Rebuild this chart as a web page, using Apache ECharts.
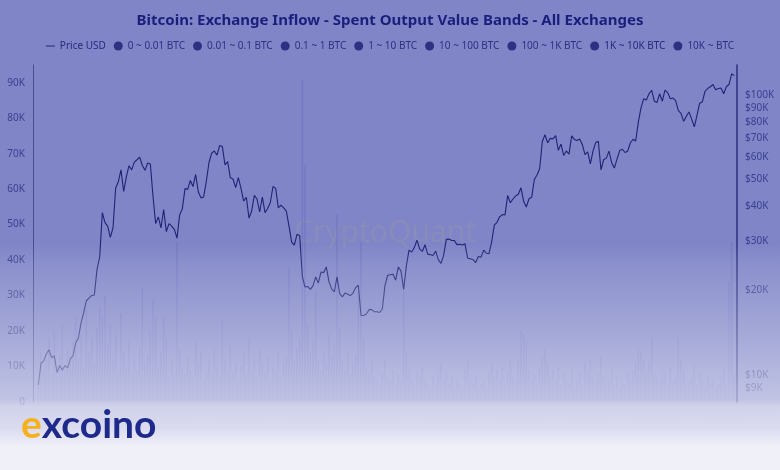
<!DOCTYPE html>
<html><head><meta charset="utf-8">
<script src="https://cdn.jsdelivr.net/npm/echarts@6/dist/echarts.min.js"></script>
<style>html,body{margin:0;padding:0;background:#f0f0f8}#c{width:780px;height:470px}</style>
</head><body><div id="c"></div>
<script>
// Weekly points starting 2020-07-20 (Mondays)
const firstWeek = '2020-07-20';

// BTC price, thousands of USD
const price2020 = [9.2,11.0,11.2,11.9,12.3,11.5,11.7,10.2,10.8,10.4,10.8,10.6,11.4,11.7,13.0,13.5,15.3,16.7,18.4,18.8,19.2,19.3,23.8,26.3];
const price2021 = [38.0,35.0,34.0,31.0,33.5,46.5,49.0,54.0,45.2,51.0,55.9,54.0,57.6,58.7,60.0,56.0,53.8,57.2,56.7,43.5,34.7,36.7,33.5,39.0,32.5,34.7,34.0,33.1,30.8,37.3,39.2,46.3,46.0,49.5,47.1,52.0,45.0,42.9,43.2,49.2,57.4,62.0,63.1,61.0,66.0,65.5,56.3,57.8,50.6,50.1,46.7,50.7];
const price2022 = [46.4,41.8,43.1,36.3,38.5,43.8,42.5,38.2,43.2,38.0,39.3,41.3,47.1,46.4,39.5,40.4,39.5,38.5,34.0,29.8,29.1,31.8,31.4,22.5,20.6,20.7,20.2,20.8,22.4,21.3,23.3,23.2,24.3,21.5,20.3,19.8,22.4,19.5,19.0,19.6,19.4,19.2,19.6,20.5,20.9,16.3,16.3,16.5,17.1,17.1,16.8,16.8];
const price2023 = [16.7,17.2,20.9,22.7,22.8,22.9,21.8,24.3,23.5,20.2,24.5,27.9,27.5,28.5,30.3,28.2,27.6,29.2,27.0,26.9,26.7,27.7,25.8,25.0,26.8,30.5,30.6,30.2,30.2,29.2,29.3,29.1,29.4,26.1,26.0,25.8,25.2,26.5,26.3,27.9,27.2,27.1,29.9,34.3,35.1,36.7,37.4,37.3,43.8,41.2,42.5,43.6];
const price2024 = [44.2,46.6,41.7,39.8,42.6,43.1,49.9,51.8,54.5,68.2,72.1,67.5,70.0,69.7,71.6,63.4,66.8,60.8,63.1,61.5,71.4,69.4,68.8,69.6,66.5,61.2,62.7,56.7,63.0,67.6,68.3,54.0,58.7,59.5,63.0,57.3,54.8,59.0,63.3,64.0,62.3,63.0,67.4,69.5,68.5,80.0,90.0,97.0,96.0,101.0,104.0,95.0,94.0];
const price2025 = [101.0,95.0,104.0,102.0,97.0,97.5,95.5,88.0,86.0,80.5,84.0,87.0,82.0,77.0,84.5,93.5,94.5,103.0,105.5,107.0,109.0,104.5,105.5,106.0,101.0,107.0,109.0,119.0,117.5];

// Exchange inflow, 1K ~ 10K BTC band, thousands of BTC
const inflow2020 = [6,14,9,12,18,8,20,10,13,22,9,15,11,17,24,12,19,10,26,14,18,11,21,27];
const inflow2021 = [24,30,16,22,12,19,9,25,14,10,17,8,12,9,15,32,11,13,20,29,24,10,14,24,18,7,12,8,45,15,10,8,13,9,7,17,11,14,6,9,12,8,15,10,7,23,12,9,16,8,11,6];
const inflow2022 = [10,14,8,18,9,12,7,15,11,8,13,6,10,9,14,7,11,13,38,20,12,15,18,91,67,22,14,17,31,12,9,14,11,19,13,16,53,21,12,9,14,8,11,13,30,45,18,10,8,12,7,6];
const inflow2023 = [5,8,12,7,6,9,5,8,6,31,14,9,6,5,8,7,10,6,5,4,7,5,9,11,6,8,5,7,4,6,5,4,9,12,6,5,7,4,5,6,4,8,11,7,9,6,10,5,8,12,7,6];
const inflow2024 = [12,20,19,17,9,6,8,5,10,13,15,11,7,9,6,10,5,8,6,5,9,4,6,8,5,11,9,12,7,6,8,13,7,5,6,9,5,7,4,6,5,8,6,9,11,15,14,12,9,11,18,8,7];
const inflow2025 = [6,9,8,5,10,6,7,18,12,9,5,6,7,11,5,8,6,4,7,5,6,4,5,7,9,5,34,45,8];

// Axis ticks
const leftTicksK = [0,10,20,30,40,50,60,70,80,90];
const rightTicksUSD = [9000,10000,20000,30000,40000,50000,60000,70000,80000,90000,100000];
const xTickDates = ['2021-01-01','2021-07-01','2022-01-01','2022-07-01','2023-01-01','2023-07-01','2024-01-01','2024-07-01','2025-01-01','2025-07-01'];
const xTickLabels = ['Jan 2021','Jul 2021','Jan 2022','Jul 2022','Jan 2023','Jul 2023','Jan 2024','Jul 2024','Jan 2025','Jul 2025'];

const bandNames = ['0 ~ 0.01 BTC','0.01 ~ 0.1 BTC','0.1 ~ 1 BTC','1 ~ 10 BTC','10 ~ 100 BTC','100 ~ 1K BTC','1K ~ 10K BTC','10K ~ BTC'];
const activeBand = '1K ~ 10K BTC';

const priceK = [].concat(price2020,price2021,price2022,price2023,price2024,price2025);
const inflowK = [].concat(inflow2020,inflow2021,inflow2022,inflow2023,inflow2024,inflow2025);
const t0 = Date.parse(firstWeek + 'T00:00:00Z');
const weekMs = 7*86400000;
const dates = priceK.map((_, i) => t0 + i*weekMs);

const navy = '#2c3182';
const chart = echarts.init(document.getElementById('c'), null, {renderer:'canvas'});

const selected = {};
bandNames.forEach(n => selected[n] = (n === activeBand));

const series = [{
  name:'Price USD', type:'line', yAxisIndex:1, symbol:'none', showSymbol:false,
  lineStyle:{color:'#1f2376', width:1.1}, itemStyle:{color:'#1f2376'},
  data: dates.map((d,i) => [d, Math.log10(priceK[i]*1000)]), z:5
}];
bandNames.forEach(n => {
  series.push({
    name:n, type:'bar', yAxisIndex:0, barWidth:1.4, barGap:'-100%',
    itemStyle:{color:'rgba(112,118,192,0.75)'},
    data: n === activeBand ? dates.map((d,i) => [d, inflowK[i]]) : [], z:2
  });
});

const tickTs = xTickDates.map(s => Date.parse(s + 'T00:00:00Z'));
const lineIcon = 'path://M0,0L0.01,0L0.01,0.01ZM0,4.4L10,4.4L10,5.6L0,5.6ZM0,10L0.01,10L0.01,10.01Z';

const option = {
  backgroundColor:'#7f85c7',
  animation:false,
  textStyle:{fontFamily:'Noto Sans'},
  title:{text:'Bitcoin: Exchange Inflow - Spent Output Value Bands - All Exchanges', left:'center', top:8,
    textStyle:{fontSize:15, fontWeight:'bold', color:'#1b1f7c', fontFamily:'Noto Sans'}},
  legend:{top:36, left:'center', itemWidth:9, itemHeight:9, itemGap:8, selected:selected,
    inactiveColor:navy, inactiveBorderColor:navy,
    textStyle:{fontSize:10, color:'#262a7c'},
    data:[{name:'Price USD', icon:lineIcon, itemStyle:{color:'#262a7c'}}].concat(
      bandNames.map(n => ({name:n, icon:'circle', itemStyle:{color:navy}})))},
  grid:{left:33, right:43, top:65, bottom:68},
  xAxis:{type:'value', min:Date.parse('2020-07-06T00:00:00Z'), max:Date.parse('2025-07-28T00:00:00Z'),
    axisLine:{show:false}, axisTick:{show:false}, splitLine:{show:false},
    axisLabel:{customValues:tickTs, fontSize:9, color:'#7d80b8', margin:9,
      formatter:v => { let k = 0; tickTs.forEach((t,j) => { if (Math.abs(t - v) < Math.abs(tickTs[k] - v)) k = j; }); return xTickLabels[k]; }}},
  yAxis:[
    {type:'value', min:0, max:95, position:'left',
      axisLine:{show:true, lineStyle:{color:'#484d94', width:1}}, axisTick:{show:false}, splitLine:{show:false},
      axisLabel:{customValues:leftTicksK, fontSize:10, color:'#3a3f8e', margin:8,
        formatter:v => v === 0 ? '0' : Math.round(v) + 'K'}},
    {type:'value', min:Math.log10(8000), max:Math.log10(128000), position:'right',
      axisLine:{show:true, lineStyle:{color:'#2d3282', width:1.5}}, axisTick:{show:false}, splitLine:{show:false},
      axisLabel:{customValues:rightTicksUSD.map(v => Math.log10(v)), fontSize:10, color:'#3a3f8e', margin:8,
        formatter:v => '$' + Math.round(Math.pow(10, v)/1000) + 'K'}}
  ],
  series:series,
  graphic:[
    {type:'text', z:1, silent:true, x:385, y:233,
      style:{text:'CryptoQuant', font:'30px "Noto Sans"', fill:'rgba(150,150,170,0.4)', align:'center', verticalAlign:'middle'}},
    {type:'rect', z:100, silent:true, shape:{x:0, y:0, width:780, height:470},
      style:{fill:new echarts.graphic.LinearGradient(0,0,0,1,[
        {offset:0, color:'rgba(240,240,249,0)'},
        {offset:0.52, color:'rgba(240,240,249,0)'},
        {offset:0.56, color:'rgba(240,240,249,0.1)'},
        {offset:0.66, color:'rgba(240,240,249,0.25)'},
        {offset:0.76, color:'rgba(240,240,249,0.42)'},
        {offset:0.85, color:'rgba(240,240,249,0.58)'},
        {offset:0.865, color:'rgba(240,240,249,0.72)'},
        {offset:0.91, color:'rgba(240,240,249,0.8)'},
        {offset:0.95, color:'rgba(240,240,249,1)'},
        {offset:1, color:'rgba(240,240,249,1)'}
      ])}},
    {type:'text', z:101, silent:true, x:21, y:445,
      style:{text:'{e|e}{x|xcoino}', verticalAlign:'bottom',
        rich:{e:{fill:'#f5b11c', font:'bold 39px Lato'}, x:{fill:'#1d2a8c', font:'bold 39px Lato'}}}}
  ]
};
chart.setOption(option);
</script></body></html>
